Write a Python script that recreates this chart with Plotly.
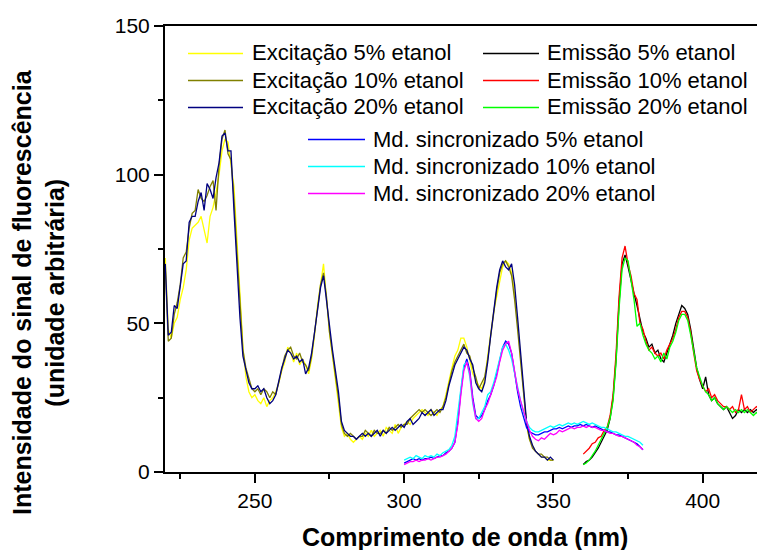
import plotly.graph_objects as go

# Wavelength grids (nm)
wl_exc = list(range(220, 351))
wl_sync = list(range(300, 381))
wl_em = list(range(360, 420))

# Excitation spectra
exc_5 = [72, 48, 45, 50, 52, 58, 62, 68, 78, 82,
         83, 84, 86, 82, 77, 86, 89, 94, 100, 108,
         112, 111, 104, 96, 78, 58, 42, 32, 27, 25,
         26, 24, 23, 25, 22, 24, 25, 27, 30, 34,
         37, 42, 40, 37, 40, 36, 38, 36, 33, 38,
         46, 56, 64, 70, 58, 47, 39, 31, 22, 15,
         12, 13, 11, 10, 11, 12, 11, 13, 12, 14,
         12, 13, 14, 12, 15, 14, 13, 16, 13, 15,
         16, 17, 16, 18, 19, 20, 21, 20, 19, 21,
         20, 19, 21, 22, 26, 31, 35, 39, 41, 45,
         45, 42, 38, 33, 31, 29, 28, 31, 39, 47,
         54, 59, 64, 69, 71, 70, 67, 60, 50, 38,
         26, 16, 11, 9, 7, 6, 5, 5, 4, 4,
         4]
exc_10 = [68, 44, 45, 53, 57, 63, 72, 74, 82, 87,
          88, 95, 92, 91, 93, 96, 98, 88, 103, 112,
          115, 107, 105, 92, 74, 56, 41, 35, 31, 28,
          27, 28, 26, 28, 27, 25, 27, 26, 30, 35,
          39, 41, 42, 39, 38, 40, 37, 36, 34, 39,
          47, 55, 63, 67, 59, 47, 40, 33, 25, 16,
          13, 12, 13, 12, 11, 12, 12, 14, 13, 12,
          14, 13, 13, 14, 13, 15, 14, 15, 16, 15,
          16, 16, 18, 19, 20, 21, 20, 21, 20, 19,
          20, 21, 20, 22, 25, 30, 34, 37, 39, 41,
          43, 40, 39, 35, 32, 28, 30, 32, 38, 46,
          55, 61, 67, 70, 71, 69, 66, 58, 48, 37,
          25, 16, 11, 8, 7, 6, 6, 5, 5, 4,
          4]
exc_20 = [70, 46, 47, 56, 55, 62, 70, 71, 84, 86,
          86, 91, 94, 88, 97, 95, 92, 99, 104, 113,
          114, 108, 108, 88, 70, 52, 39, 34, 30, 28,
          28, 29, 27, 28, 25, 23, 24, 26, 31, 35,
          38, 41, 40, 38, 39, 37, 38, 33, 35, 40,
          47, 54, 62, 66, 57, 48, 41, 34, 27, 17,
          14, 13, 12, 12, 11, 12, 13, 12, 13, 12,
          13, 14, 12, 14, 13, 14, 15, 14, 15, 16,
          15, 17, 18, 16, 17, 18, 20, 19, 20, 21,
          19, 20, 21, 21, 24, 29, 33, 36, 38, 40,
          42, 41, 38, 36, 30, 28, 27, 30, 37, 46,
          55, 62, 68, 71, 69, 68, 70, 63, 52, 40,
          27, 17, 12, 9, 7, 6, 5, 5, 4, 5,
          4]

# Synchronous-mode spectra
sync_5 = [3, 3.5, 4, 4.5, 4, 4.5, 4, 4.5, 4.5, 5,
          4.5, 5, 5.5, 5.5, 6.5, 7, 8, 10, 17, 27,
          35, 38, 34, 25, 19, 18, 19, 21, 24, 26,
          29, 33, 38, 42, 44, 43, 40, 33, 27, 22,
          18, 15, 13.5, 13, 12.5, 12.5, 13, 13.5, 13.5, 14,
          14.5, 14.5, 15, 14.5, 15, 15.5, 15, 15.5, 15.5, 16,
          15.5, 16, 15.5, 15, 15.5, 15, 14.5, 14, 13.5, 13.5,
          13, 12.5, 12.5, 12, 11.5, 11, 10.5, 10, 9.5, 8.5,
          7.5]
sync_10 = [4, 4.5, 5, 4.5, 5.5, 5, 4.5, 5.5, 5, 5.5,
           5, 6, 5.5, 6.5, 7, 7.5, 9, 12, 20, 29,
           36, 37, 32, 23, 18, 18, 20, 22, 26, 27,
           30, 34, 39, 42, 43, 41, 38, 33, 29, 24,
           20, 17, 15, 14, 13.5, 13.5, 14, 14.5, 15, 15.5,
           15, 15.5, 16, 15.5, 16, 16.5, 16, 16.5, 16, 16.5,
           17, 16.5, 16, 16.5, 16, 15.5, 15, 15, 14.5, 14,
           13.5, 13.5, 13, 12.5, 12, 12, 11.5, 11, 10.5, 10,
           9]
sync_20 = [2.5, 3, 3.5, 3.5, 4, 3.5, 4, 4, 4.5, 4,
           4.5, 5, 5, 5.5, 6, 7, 8, 10, 16, 26,
           34, 37, 33, 24, 18, 17, 18, 21, 23, 26,
           29, 32, 37, 41, 43, 44, 40, 34, 28, 24,
           20, 17, 14, 12, 11, 10.5, 11.5, 11, 12, 13,
           12.5, 13, 14, 13.5, 14, 14.5, 15, 14.5, 15, 15,
           15.5, 15, 15.5, 15, 15, 14.5, 14, 14, 13.5, 13,
           13, 12.5, 12, 12, 11.5, 11, 10.5, 10, 9, 8.5,
           7.5]

# Emission spectra
em_5 = [2.5, 3.5, 4, 5, 6.5, 8, 10, 12, 14, 18,
        25, 38, 57, 70, 73, 69, 64, 60, 56, 52,
        47, 45, 42, 43, 40, 41, 38, 37, 40, 43,
        46, 50, 53, 56, 55, 53, 48, 41, 35, 31,
        28, 32, 26, 24, 25, 23, 22, 21, 22, 20,
        18, 19, 21, 20, 21, 20, 21, 20, 21, 20]
em_10 = [6, 7, 8, 9.5, 10, 11.5, 12, 14, 15, 19,
         26, 40, 59, 72, 76, 70, 66, 60, 58, 50,
         48, 44, 41, 42, 40, 39, 40, 38, 41, 43,
         45, 48, 52, 54, 54, 52, 47, 40, 34, 31,
         29, 27, 28, 25, 26, 24, 23, 22, 22, 21,
         22, 20, 21, 26, 21, 22, 20, 21, 22, 21]
em_20 = [2.5, 3, 4, 5.5, 7, 9, 11, 13, 15, 18,
         24, 37, 55, 68, 72, 71, 65, 58, 49, 50,
         46, 43, 41, 40, 38, 39, 37, 40, 38, 42,
         44, 47, 51, 53, 53, 51, 46, 41, 35, 32,
         29, 27, 26, 24, 25, 23, 22, 21, 22, 21,
         20, 21, 20, 21, 20, 21, 20, 19, 20, 19]

x_ticks = [250, 300, 350, 400]
y_ticks = [0, 50, 100, 150]

series = [
    # (name, x, y, colour, legend group)
    ("Excitação 5% etanol", wl_exc, exc_5, "#FFFF00", 0),
    ("Excitação 10% etanol", wl_exc, exc_10, "#808000", 0),
    ("Excitação 20% etanol", wl_exc, exc_20, "#000080", 0),
    ("Emissão 5% etanol", wl_em, em_5, "#000000", 1),
    ("Emissão 10% etanol", wl_em, em_10, "#FF0000", 1),
    ("Emissão 20% etanol", wl_em, em_20, "#00FF00", 1),
    ("Md. sincronizado 5% etanol", wl_sync, sync_5, "#0000FF", 2),
    ("Md. sincronizado 10% etanol", wl_sync, sync_10, "#00FFFF", 2),
    ("Md. sincronizado 20% etanol", wl_sync, sync_20, "#FF00FF", 2),
]

FONT = "Liberation Sans, Arial, sans-serif"

# Plot-area geometry in pixels
W, H = 757, 550
ML, MT, MB, MR = 165, 26, 78, 0
PW, PH = W - ML - MR, H - MT - MB


def px_x(px):
    return (px - ML) / PW


def px_y(py):
    return (H - MB - py) / PH


fig = go.Figure()
for name, xs, ys, col, _ in series:
    fig.add_trace(go.Scatter(x=xs, y=ys, mode="lines", name=name,
                             line=dict(color=col, width=1.3),
                             showlegend=False, hoverinfo="x+y+name"))

# Hand-built legend: three blocks of line samples + labels
legend_blocks = [
    # line start, line end, text start, first row, row step (px)
    (188, 243, 250, 53, 27),
    (483, 539, 545, 53, 27),
    (308, 365, 371, 139, 27),
]
rows_used = [0, 0, 0]
shapes, annotations = [], []
for name, _, _, col, grp in series:
    lx0, lx1, tx, y0, dy = legend_blocks[grp]
    yy = y0 + rows_used[grp] * dy
    rows_used[grp] += 1
    shapes.append(dict(type="line", xref="paper", yref="paper",
                       x0=px_x(lx0), x1=px_x(lx1),
                       y0=px_y(yy + 0.5), y1=px_y(yy + 0.5),
                       line=dict(color=col, width=1.6)))
    annotations.append(dict(text=name, xref="paper", yref="paper",
                            x=px_x(tx), y=px_y(yy), xanchor="left",
                            yanchor="middle", showarrow=False,
                            font=dict(family=FONT, size=22, color="#000")))

# Axis titles
annotations.append(dict(text="<b>Comprimento de onda (nm)</b>",
                        xref="paper", yref="paper", x=px_x(465), y=px_y(537),
                        xanchor="center", yanchor="middle", showarrow=False,
                        font=dict(family=FONT, size=25, color="#000")))
annotations.append(dict(text="<b>Intensidade do sinal de fluorescência<br>(unidade arbitrária)</b>",
                        xref="paper", yref="paper", x=px_x(38), y=px_y(292),
                        xanchor="center", yanchor="middle", showarrow=False,
                        textangle=-90,
                        font=dict(family=FONT, size=25, color="#000")))

fig.update_layout(
    width=W, height=H,
    margin=dict(l=ML, r=MR, t=MT, b=MB, pad=0),
    paper_bgcolor="white", plot_bgcolor="white",
    showlegend=False,
    font=dict(family=FONT, size=21, color="#000"),
    shapes=shapes, annotations=annotations,
    xaxis=dict(range=[219.9, 418.2], tickvals=x_ticks, ticks="outside",
               ticklen=9, tickwidth=1.5, tickcolor="#000",
               minor=dict(dtick=25, tick0=0, ticks="outside", ticklen=5,
                          tickwidth=1.5, tickcolor="#000"),
               showline=True, linecolor="#000", linewidth=2, mirror=True,
               showgrid=False, zeroline=False,
               tickfont=dict(family=FONT, size=21, color="#000")),
    xaxis2=dict(overlaying="x", matches="x", side="top", anchor="y",
                tickvals=x_ticks, ticks="inside", ticklen=5, tickwidth=1.5,
                tickcolor="#000",
                minor=dict(dtick=25, tick0=0, ticks="inside", ticklen=3,
                           tickwidth=1.5, tickcolor="#000"),
                showticklabels=False, showline=False, showgrid=False,
                zeroline=False),
    yaxis=dict(range=[0, 150], tickvals=y_ticks, ticks="outside",
               ticklen=9, tickwidth=1.5, tickcolor="#000",
               minor=dict(dtick=25, tick0=0, ticks="outside", ticklen=5,
                          tickwidth=1.5, tickcolor="#000"),
               showline=True, linecolor="#000", linewidth=2,
               showgrid=False, zeroline=False,
               tickfont=dict(family=FONT, size=21, color="#000")),
)

fig.write_html("out.html")
